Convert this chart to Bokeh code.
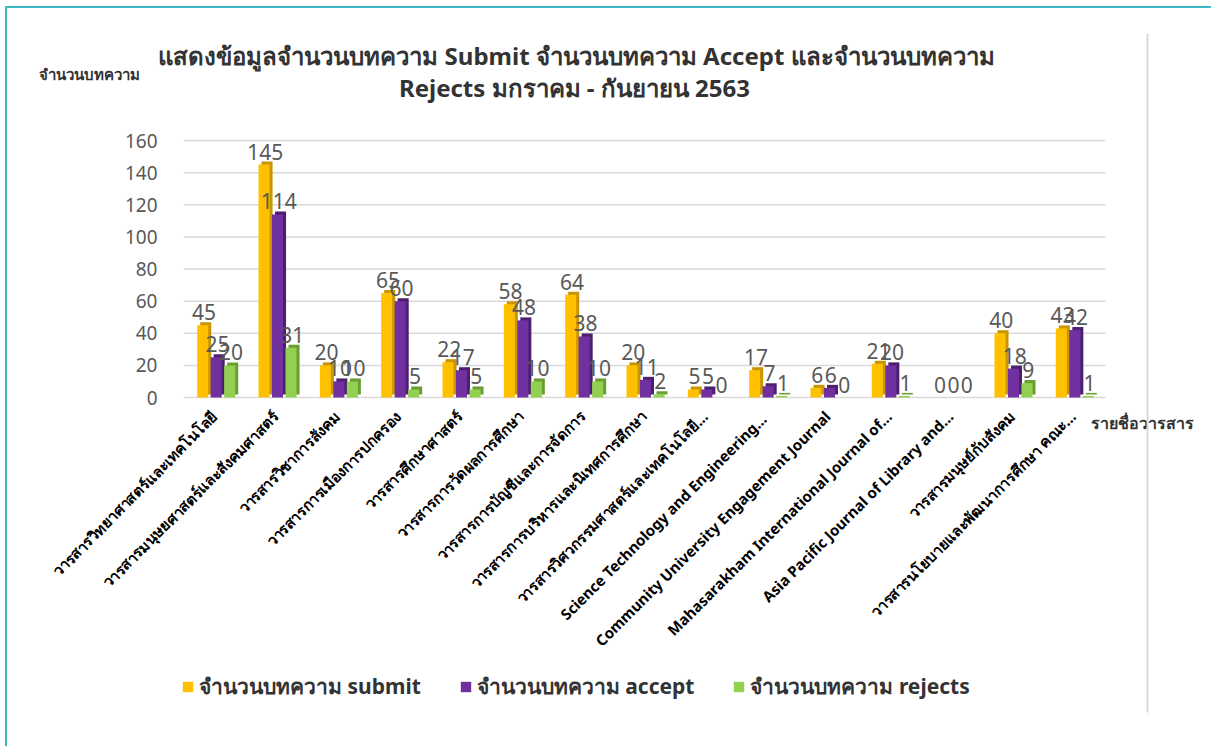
import math
from bokeh.plotting import figure
from bokeh.models import (ColumnDataSource, Range1d, Legend, LegendItem, Label,
                          LabelSet, BoxAnnotation, FixedTicker)
from bokeh.transform import dodge
from bokeh.core.properties import value
from bokeh.embed import file_html
from bokeh.resources import INLINE

# ---------------- data ----------------
journals = [
    "วารสารวิทยาศาสตร์และเทคโนโลยี",
    "วารสารมนุษยศาสตร์และสังคมศาสตร์",
    "วารสารวิชาการสังคม",
    "วารสารการเมืองการปกครอง",
    "วารสารศึกษาศาสตร์",
    "วารสารการวัดผลการศึกษา",
    "วารสารการบัญชีและการจัดการ",
    "วารสารการบริหารและนิเทศการศึกษา",
    "วารสารวิศวกรรมศาสตร์และเทคโนโลยี...",
    "Science Technology and  Engineering...",
    "Community University Engagement Journal",
    "Mahasarakham International Journal of...",
    "Asia Pacific Journal of Library and...",
    "วารสารมนุษย์กับสังคม",
    "วารสารนโยบายและพัฒนาการศึกษา คณะ...",
]
submit = [45, 145, 20, 65, 22, 58, 64, 20, 5, 17, 6, 21, 0, 40, 43]
accept = [25, 114, 10, 60, 17, 48, 38, 11, 5, 7, 6, 20, 0, 18, 42]
rejects = [20, 31, 10, 5, 5, 10, 10, 2, 0, 1, 0, 1, 0, 9, 1]

series_keys = ["submit", "accept", "rejects"]
series_names = ["จำนวนบทความ submit", "จำนวนบทความ accept", "จำนวนบทความ rejects"]
front_colors = ["#FFC000", "#7030A0", "#92D050"]
side_colors = ["#C99500", "#4C1F70", "#6A9E35"]
y_ticks = [0, 20, 40, 60, 80, 100, 120, 140, 160]

title_line1 = "แสดงข้อมูลจำนวนบทความ Submit จำนวนบทความ Accept และจำนวนบทความ"
title_line2 = "Rejects  มกราคม - กันยายน 2563"
y_title = "จำนวนบทความ"
x_title = "รายชื่อวารสาร"

# ---------------- layout (pixels of the page) ----------------
W, H = 1211, 746
FONT = "Noto Sans"
FRAME_LEFT = 20            # left edge of the drawing frame
YLABEL_RIGHT = 157         # right edge of the y tick labels
Y0_PX, Y160_PX = 397, 140  # where 0 and 160 sit
GROUP0_PX = 215.7          # centre of first category
GROUP_STEP = 61.33         # px per category
GRID_L_PX, GRID_R_PX = 183, 1105

PX_PER_UNIT = (Y0_PX - Y160_PX) / 160.0
y_start = -(H - Y0_PX) / PX_PER_UNIT
y_end = 160 + Y160_PX / PX_PER_UNIT
x_start = -(GROUP0_PX - FRAME_LEFT) / GROUP_STEP
x_end = (W - GROUP0_PX) / GROUP_STEP
grid_x0 = -(GROUP0_PX - GRID_L_PX) / GROUP_STEP
grid_x1 = (GRID_R_PX - GROUP0_PX) / GROUP_STEP

DEPTH_Y = 3 / PX_PER_UNIT   # 3D cap depth (3 px) in data units
DEPTH_X = 3 / GROUP_STEP
BAR_W = 0.18
OFFSETS = [-0.22, 0.0, 0.22]

def sx(px):
    return px - FRAME_LEFT

def sy(py):
    return H - py

data = dict(xi=list(range(len(journals))), j=journals,
            submit=submit, accept=accept, rejects=rejects,
            zero=[0] * len(journals), base3d=[DEPTH_Y] * len(journals))
for k in series_keys:
    data[k + "_top3d"] = [v + DEPTH_Y for v in data[k]]
    data[k + "_txt"] = [str(v) for v in data[k]]
source = ColumnDataSource(data)

p = figure(width=W, height=H,
           x_range=Range1d(x_start, x_end), y_range=Range1d(y_start, y_end),
           output_backend="svg", toolbar_location=None,
           min_border_left=FRAME_LEFT, min_border_right=0,
           min_border_top=0, min_border_bottom=0)
p.styles = {"box-shadow": "inset 5px 6px 0 0 #ffffff, inset 7px 8px 0 0 #3DB9C6",
            "background-color": "#ffffff"}
p.outline_line_color = None
p.background_fill_color = None
p.border_fill_color = None
p.xaxis.visible = False
p.xgrid.grid_line_color = None
p.ygrid.grid_line_color = None

# horizontal gridlines at the tick values
p.segment(x0=grid_x0, x1=grid_x1, y0=y_ticks, y1=y_ticks,
          line_color="#D9D9D9", line_width=1.5)

front_renderers = []
for k, off, fc, sc in zip(series_keys, OFFSETS, front_colors, side_colors):
    p.vbar(x=dodge("xi", off + DEPTH_X), bottom="base3d", top=k + "_top3d",
           width=BAR_W, source=source, fill_color=sc, line_color=None)
    r = p.vbar(x=dodge("xi", off), bottom=0, top=k, width=BAR_W,
               source=source, fill_color=fc, line_color=None)
    front_renderers.append(r)

for k, off in zip(series_keys, OFFSETS):
    p.add_layout(LabelSet(x=dodge("xi", off + 0.02), y=k, text=k + "_txt",
                          source=source, y_offset=5, text_align="center",
                          text_baseline="bottom", text_font=value(FONT),
                          text_font_size="21px", text_color="#595959"))

# category labels, rotated 45 degrees under each group
p.add_layout(LabelSet(x="xi", y="zero", text="j", source=source,
                      angle=math.pi / 4, x_offset=-2, y_offset=-16,
                      text_align="right", text_baseline="middle",
                      text_font=value(FONT), text_font_size="15px",
                      text_font_style="bold", text_color="black"))

# y axis (labels drawn over the frame's left margin)
p.yaxis.ticker = FixedTicker(ticks=y_ticks)
p.yaxis.axis_line_color = None
p.yaxis.major_tick_line_color = None
p.yaxis.minor_tick_line_color = None
p.yaxis.major_tick_out = 0
p.yaxis.major_tick_in = 0
p.yaxis.minor_tick_out = 0
p.yaxis.minor_tick_in = 0
p.yaxis.major_label_standoff = -(YLABEL_RIGHT - FRAME_LEFT)
p.yaxis.major_label_text_font = FONT
p.yaxis.major_label_text_font_size = "19px"
p.yaxis.major_label_text_color = "#595959"

def add_text(px, py, text, size, align="left", bold=True, color="#333333"):
    p.add_layout(Label(x=sx(px), y=sy(py), x_units="screen", y_units="screen",
                       text=text, text_align=align, text_baseline="middle",
                       text_font=FONT, text_font_size=size,
                       text_font_style="bold" if bold else "normal",
                       text_color=color))

add_text(576, 55, title_line1, "24px", align="center")
add_text(577, 87, title_line2, "24px", align="center")
add_text(38, 73, y_title, "15px")
add_text(1090, 422, x_title, "16px")

# thin vertical separator on the right
p.add_layout(BoxAnnotation(left=sx(1146), right=sx(1148), top=sy(33), bottom=sy(712),
                           left_units="screen", right_units="screen",
                           top_units="screen", bottom_units="screen",
                           fill_color="#D9D9D9", fill_alpha=1, line_color=None))

legend = Legend(items=[LegendItem(label=n, renderers=[r])
                       for n, r in zip(series_names, front_renderers)],
                orientation="horizontal", location=(sx(181), sy(703)),
                border_line_color=None, background_fill_alpha=0,
                glyph_width=13, glyph_height=13, label_standoff=5, spacing=38,
                padding=0, margin=0, label_text_font=FONT,
                label_text_font_size="21px", label_text_font_style="bold",
                label_text_color="#333333")
p.add_layout(legend)

open("out.html", "w").write(file_html(p, INLINE))
